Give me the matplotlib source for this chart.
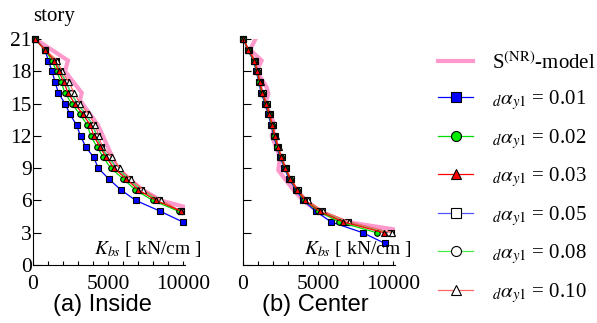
import matplotlib
matplotlib.use('Agg')
import matplotlib.pyplot as plt
from matplotlib.ticker import MultipleLocator

plt.rcParams['font.family'] = ['Liberation Serif', 'DejaVu Serif']
plt.rcParams['mathtext.fontset'] = 'stix'

# ---- data ----
alphas = ['0.01', '0.02', '0.03', '0.05', '0.08', '0.10']

# (a) Inside
story_a = list(range(21, 4, -1))        # 21..5
story_a_01 = list(range(21, 3, -1))     # 21..4 for 0.01
k_a_01 = [150, 800, 1020, 1270, 1470, 1690, 2130, 2470, 2900, 3170, 3500, 4050, 4350, 5050, 5840, 6850, 8470, 9980]
k_a_02 = [130, 800, 1250, 1580, 1870, 2130, 2580, 3130, 3620, 3850, 4250, 4690, 5180, 6020, 6800, 7980, 9700]
k_a_03 = [130, 800, 1400, 1720, 2050, 2330, 2780, 3330, 3820, 4050, 4450, 4880, 5400, 6220, 7000, 8200, 9870]
k_a_05 = [130, 800, 1520, 1820, 2220, 2520, 2970, 3520, 4000, 4250, 4520, 5050, 5570, 6400, 7200, 8400, 9870]
k_a_08 = [130, 800, 1500, 1800, 2200, 2500, 2950, 3500, 3980, 4230, 4500, 5030, 5550, 6380, 7180, 8380, 9850]
k_a_10 = [130, 800, 1620, 1920, 2400, 2730, 3160, 3720, 4160, 4380, 4610, 5280, 5780, 6500, 7330, 8550, 9870]
model_a_story = [21, 19, 18, 16, 15.3, 13, 10, 9, 8, 7, 6, 5.4]
model_a_k = [150, 2330, 2130, 3250, 3130, 4330, 5300, 5650, 6400, 7300, 8500, 10100]

# (b) Center
story_b = list(range(21, 2, -1))        # 21..3
story_b_01 = list(range(21, 1, -1))     # 21..2 for 0.01
k_b_01 = [30, 300, 700, 880, 1060, 1200, 1470, 1690, 1870, 2050, 2250, 2470, 2760, 3060, 3530, 4020, 4840, 5870, 7980, 9470]
k_b_02 = [30, 330, 730, 910, 1090, 1240, 1510, 1730, 1910, 2090, 2290, 2510, 2800, 3110, 3580, 4090, 5020, 6420, 8910]
k_b_03 = [30, 350, 760, 940, 1120, 1270, 1540, 1760, 1940, 2120, 2320, 2540, 2830, 3140, 3610, 4150, 5100, 6690, 9400]
k_b_05 = [30, 380, 790, 970, 1150, 1300, 1570, 1790, 1970, 2150, 2350, 2570, 2860, 3170, 3640, 4250, 5250, 7000, 9850]
k_b_08 = [30, 370, 780, 960, 1140, 1290, 1560, 1780, 1960, 2140, 2340, 2560, 2850, 3160, 3630, 4200, 5200, 6900, 9700]
k_b_10 = [30, 400, 810, 990, 1170, 1320, 1590, 1810, 1990, 2170, 2370, 2590, 2880, 3190, 3660, 4310, 5350, 7070, 9910]
model_b_story = [21.15, 20, 19, 18, 16.5, 15.9, 15, 13, 12, 10, 8.8, 7, 6, 5, 4, 3.3]
model_b_k = [890, 470, 1240, 910, 1580, 1690, 1470, 2130, 1910, 2470, 2350, 3350, 4000, 5000, 6900, 10100]

# styles: (line colour, marker, marker face)
styles = {
    '0.01': ('#0000ff', 's', '#0000ff'),
    '0.02': ('#00dd00', 'o', '#00ee00'),
    '0.03': ('#ff0000', '^', '#ff0000'),
    '0.05': ('#5555ff', 's', 'white'),
    '0.08': ('#44ee44', 'o', 'white'),
    '0.10': ('#ff6666', '^', 'white'),
}
model_color = '#ff99cc'
draw_order = ['0.05', '0.08', '0.10', '0.01', '0.02', '0.03']

fig = plt.figure(figsize=(5.97, 3.23), dpi=100)
ax1 = fig.add_axes([33/597, 58/323, 152/597, 226/323])
ax2 = fig.add_axes([243/597, 58/323, 152/597, 226/323])

series_a = {'0.01': (k_a_01, story_a_01), '0.02': (k_a_02, story_a), '0.03': (k_a_03, story_a),
            '0.05': (k_a_05, story_a), '0.08': (k_a_08, story_a), '0.10': (k_a_10, story_a)}
series_b = {'0.01': (k_b_01, story_b_01), '0.02': (k_b_02, story_b), '0.03': (k_b_03, story_b),
            '0.05': (k_b_05, story_b), '0.08': (k_b_08, story_b), '0.10': (k_b_10, story_b)}

handles = {}
for ax, series, mk, ms in [(ax1, series_a, model_a_k, model_a_story), (ax2, series_b, model_b_k, model_b_story)]:
    hm, = ax.plot(mk, ms, color=model_color, lw=3, solid_joinstyle='miter', zorder=1)
    handles['model'] = hm
    for i, a in enumerate(draw_order):
        c, m, fc = styles[a]
        x, y = series[a]
        h, = ax.plot(x, y, color=c, lw=0.9, marker=m, markersize=4.0, markerfacecolor=fc,
                     markeredgecolor='black', markeredgewidth=0.8, zorder=2 + i * 0.1, clip_on=False)
        handles[a] = h

    ax.set_xlim(0, 10130)
    ax.set_ylim(0, 21)
    ax.spines['top'].set_visible(False)
    ax.spines['right'].set_visible(False)
    ax.xaxis.set_major_locator(MultipleLocator(5000))
    ax.xaxis.set_minor_locator(MultipleLocator(1000))
    ax.yaxis.set_major_locator(MultipleLocator(3))
    ax.tick_params(axis='x', which='both', direction='in', length=3, width=0.8, labelsize=15.5, pad=7)
    ax.tick_params(axis='y', which='major', direction='in', length=6, width=0.8, labelsize=15.5, pad=1)
    ax.text(1.11, 0.07, r'$K_{bs}$ [ kN/cm ]', transform=ax.transAxes, ha='right', va='center', fontsize=14)

ax2.tick_params(axis='y', labelleft=False)
fig.text(33/597, 1 - 17/323, 'story', fontsize=15, ha='left', va='center')
fig.text(102/597, 1 - 305/323, '(a) Inside', family='Liberation Sans', fontsize=17, ha='center', va='center')
fig.text(315/597, 1 - 305/323, '(b) Center', family='Liberation Sans', fontsize=17, ha='center', va='center')

hl = [handles['model']] + [handles[a] for a in alphas]
labels = [r'S$^{\rm (NR)}$-model'] + [r'${}_{d}\alpha_{y1}$ = ' + a for a in alphas]
leg = fig.legend(hl, labels, loc='upper left', bbox_to_anchor=(438/597, 1 - 52/323),
                 frameon=False, fontsize=15, handlelength=1.7, handletextpad=0.9,
                 labelspacing=0.7, borderpad=0, borderaxespad=0, markerscale=1.8)

fig.savefig('out.png', dpi=100)
